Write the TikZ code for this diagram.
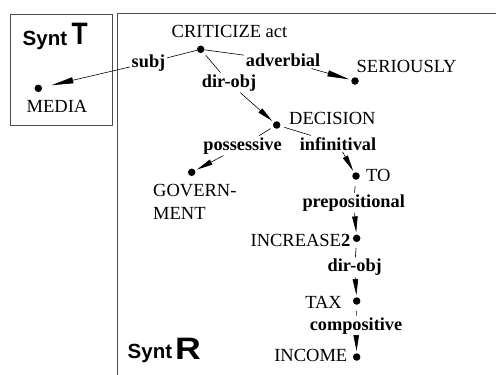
\documentclass[tikz,border=0pt]{standalone}
\usepackage{fontspec}
\setmainfont{Liberation Serif}
\newfontfamily\helv{Liberation Sans}
\usetikzlibrary{arrows.meta}

\tikzset{
  dot/.style={circle, fill, inner sep=0pt, minimum size=7.5pt},
  word/.style={font=\fontsize{18.5}{22}\selectfont, inner sep=0pt},
  rel/.style={font=\bfseries\fontsize{18.3}{22}\selectfont, inner sep=1.5pt, anchor=base},
  link/.style={line width=0.6pt},
  arc/.style={link, -{Triangle[length=16pt,width=5.5pt]}, shorten >=2pt},
  longarc/.style={link, -{Triangle[length=22pt,width=6pt]}, shorten >=2pt},
  frame/.style={line width=0.9pt, black!70},
  synt/.style={font=\helv\bfseries\fontsize{20.5}{20.5}\selectfont, inner sep=0pt, anchor=base west},
  level/.style={font=\helv\bfseries\fontsize{31}{31}\selectfont, inner sep=0pt, anchor=base west},
}

\begin{document}
\begin{tikzpicture}[x=1pt, y=-1pt]
  \useasboundingbox (0,0) rectangle (496,375);

  % frames of the two structures
  \draw[frame] (10,14) rectangle (112.5,125);
  \draw[frame] (117,375) -- (117,13) -- (496,13);

  % structure titles
  \node[synt] (tsynt) at (22.5,45) {Synt};
  \node[level, xscale=0.85] (tlevel) at (71.5,44) {T};
  \node[synt] (rsynt) at (127.5,358.3) {Synt};
  \node[level, xscale=1.15] (rlevel) at (175,359.3) {R};

  % tree nodes
  \node[dot] (crit)   at (200.7,49.3) {};
  \node[dot] (media)  at (38.3,88.3) {};
  \node[dot] (ser)    at (355,81) {};
  \node[dot] (dec)    at (276.7,125) {};
  \node[dot] (gov)    at (191.7,172.3) {};
  \node[dot] (to)     at (356,176) {};
  \node[dot] (inc)    at (356.7,238.3) {};
  \node[dot] (tax)    at (356.7,301) {};
  \node[dot] (income) at (356.7,357) {};

  % lexeme names
  \node[word, anchor=base west] (critw)   at (171.5,37) {CRITICIZE act};
  \node[word, anchor=base west] (mediaw)  at (26.5,112) {MEDIA};
  \node[word, anchor=base west] (serw)    at (356.5,72.7) {SERIOUSLY};
  \node[word, anchor=base west] (decw)    at (289,124) {DECISION};
  \node[word, anchor=base west] (govw)    at (153,196.7) {GOVERN-};
  \node[word, anchor=base west] (govw2)   at (153,219.3) {MENT};
  \node[word, anchor=base west] (tow)     at (366,181) {TO};
  \node[word, anchor=base east] (incw)    at (350.5,246.7) {INCREASE\textbf{2}};
  \node[word, anchor=base east] (taxw)    at (342,308.3) {TAX};
  \node[word, anchor=base east] (incomew) at (347.5,361.7) {INCOME};

  % relation names
  \node[rel] (subj)  at (148.5,67)  {subj};
  \node[rel] (dobj)  at (229,87)    {dir-obj};
  \node[rel] (adv)   at (283,66.7)  {adverbial};
  \node[rel] (poss)  at (242.5,150) {possessive};
  \node[rel] (infin) at (338,150)   {infinitival};
  \node[rel] (prep)  at (353.7,207.3) {prepositional};
  \node[rel] (dobj2) at (354.7,271.7) {dir-obj};
  \node[rel] (comp)  at (356,330)   {compositive};

  % dependency arcs
  \draw[link] (crit) -- (subj);
  \draw[longarc, shorten >=9.5pt] (subj) -- (media);
  \draw[link] (crit) -- (adv);
  \draw[longarc] (adv) -- (ser);
  \draw[link, shorten <=4pt] (crit) -- (dobj);
  \draw[arc] (dobj) -- (dec);
  \draw[link, shorten <=3pt] (dec) -- (poss);
  \draw[arc] (poss) -- (gov);
  \draw[link, shorten <=4pt] (dec) -- (infin);
  \draw[arc] (infin) -- (to);
  \draw[link, shorten <=6pt] (to) -- (prep);
  \draw[arc] (prep) -- (inc);
  \draw[link, shorten <=6pt] (inc) -- (dobj2);
  \draw[arc] (dobj2) -- (tax);
  \draw[link, shorten <=6pt] (tax) -- (comp);
  \draw[arc] (comp) -- (income);
\end{tikzpicture}
\end{document}
